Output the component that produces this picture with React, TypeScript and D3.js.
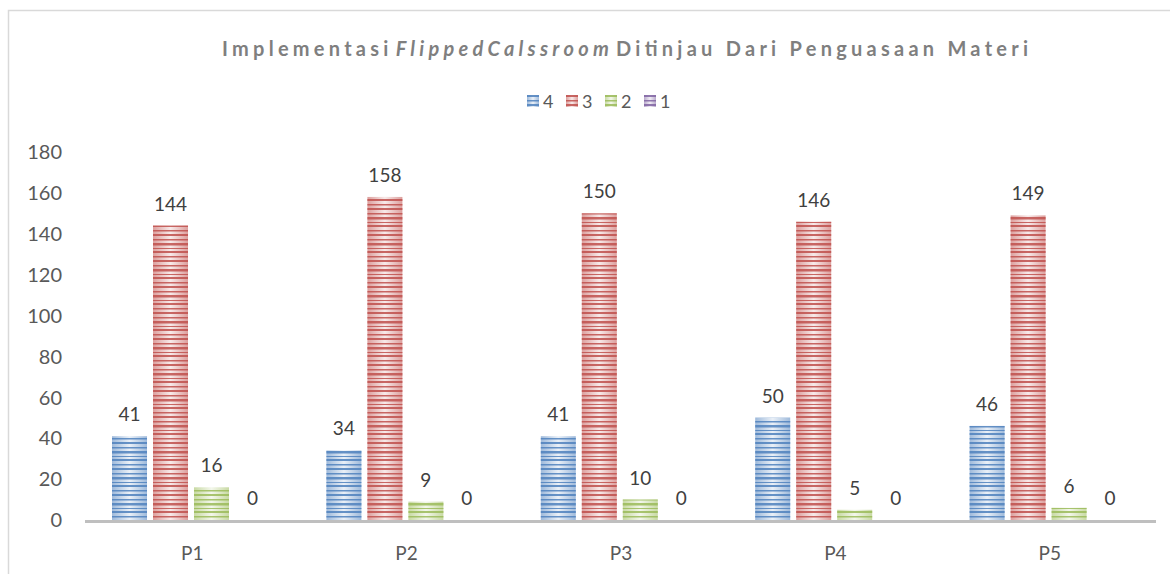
import React from "react";
import * as d3 from "d3";

const categories = ["P1", "P2", "P3", "P4", "P5"];
const seriesNames = ["4", "3", "2", "1"];
const s4 = [41, 34, 41, 50, 46];
const s3 = [144, 158, 150, 146, 149];
const s2 = [16, 9, 10, 5, 6];
const s1 = [0, 0, 0, 0, 0];
const yTicks = [0, 20, 40, 60, 80, 100, 120, 140, 160, 180];
const colors = ["#4f81bd", "#c0504d", "#9bbb59", "#8064a2"];

const W = 1170;
const H = 574;
const FONT = "Lato, 'Open Sans', sans-serif";

export default function App() {
  const series = [s4, s3, s2, s1];
  const x0 = d3.scaleBand<string>().domain(categories).range([85, 1157]).paddingInner(0).paddingOuter(0);
  const x1 = d3.scaleBand<string>().domain(seriesNames).range([27, 185]).paddingInner(0.146);
  const y = d3.scaleLinear().domain([0, 180]).range([520, 152]);
  const stripeYs = [
    [0, 2],
    [5, 1.5],
    [9, 2.5],
    [14, 1],
    [17, 2],
    [22, 1.5],
  ];

  const legendX = [527, 566, 605, 644];

  return (
    <svg width={W} height={H} style={{ position: "absolute", left: 0, top: 0 }}>
      <defs>
        {colors.map((c, i) => (
          <React.Fragment key={i}>
            <linearGradient id={`g${i}`} x1="0" x2="1" y1="0" y2="0">
              <stop offset="0" stopColor={c} stopOpacity={0.55} />
              <stop offset="0.5" stopColor={c} stopOpacity={0.12} />
              <stop offset="1" stopColor={c} stopOpacity={0.55} />
            </linearGradient>
            <pattern id={`p${i}`} patternUnits="userSpaceOnUse" width={10} height={26}>
              {stripeYs.map(([sy, sh], k) => (
                <rect key={k} x={0} y={sy} width={10} height={sh} fill={c} opacity={0.85} />
              ))}
            </pattern>
          </React.Fragment>
        ))}
      </defs>
      <rect x={0} y={0} width={W} height={H} fill="#fff" />
      <path d={`M8.5,${H} V10.5 H${W}`} fill="none" stroke="#d9d9d9" strokeWidth={1.5} />

      <text
        x={222}
        y={56}
        fontFamily={FONT}
        fontSize={20}
        fontWeight="bold"
        fill="#7f7f7f"
        textLength={806}
        lengthAdjust="spacing"
      >
        <tspan>Implementasi</tspan>
        <tspan fontStyle="italic" dx={3}>FlippedCalssroom</tspan>
        <tspan dx={3}>Ditinjau Dari Penguasaan Materi</tspan>
      </text>

      {seriesNames.map((s, i) => (
        <g key={s}>
          <rect x={legendX[i]} y={95} width={12} height={12} fill={`url(#g${i})`} />
          <rect x={legendX[i]} y={95} width={12} height={12} fill={`url(#p${i})`} />
          <text x={legendX[i] + 16} y={108} fontFamily={FONT} fontSize={18} fill="#595959">
            {s}
          </text>
        </g>
      ))}

      {yTicks.map((t) => (
        <text key={t} x={62} y={y(t)} dy="0.36em" textAnchor="end" fontFamily={FONT} fontSize={20} fill="#595959">
          {t}
        </text>
      ))}

      {categories.map((cat, ci) => (
        <g key={cat} transform={`translate(${x0(cat)},0)`}>
          {seriesNames.map((s, si) => {
            const v = series[si][ci];
            const bx = x1(s)!;
            const bw = x1.bandwidth();
            const top = y(v);
            const h = y(0) - top;
            return (
              <g key={s}>
                {h > 0 && (
                  <>
                    <rect x={bx} y={top} width={bw} height={h} fill={`url(#g${si})`} />
                    <rect x={bx} y={top} width={bw} height={h} fill={`url(#p${si})`} />
                  </>
                )}
                <text x={bx + bw / 2} y={top - 15} textAnchor="middle" fontFamily={FONT} fontSize={19} fill="#404040">
                  {v}
                </text>
              </g>
            );
          })}
          <text x={x0.bandwidth() / 2} y={560} textAnchor="middle" fontFamily={FONT} fontSize={19} fill="#595959">
            {cat}
          </text>
        </g>
      ))}

      <line x1={85} x2={1156} y1={y(0) + 1.5} y2={y(0) + 1.5} stroke="#bfbfbf" strokeWidth={3} />
    </svg>
  );
}
